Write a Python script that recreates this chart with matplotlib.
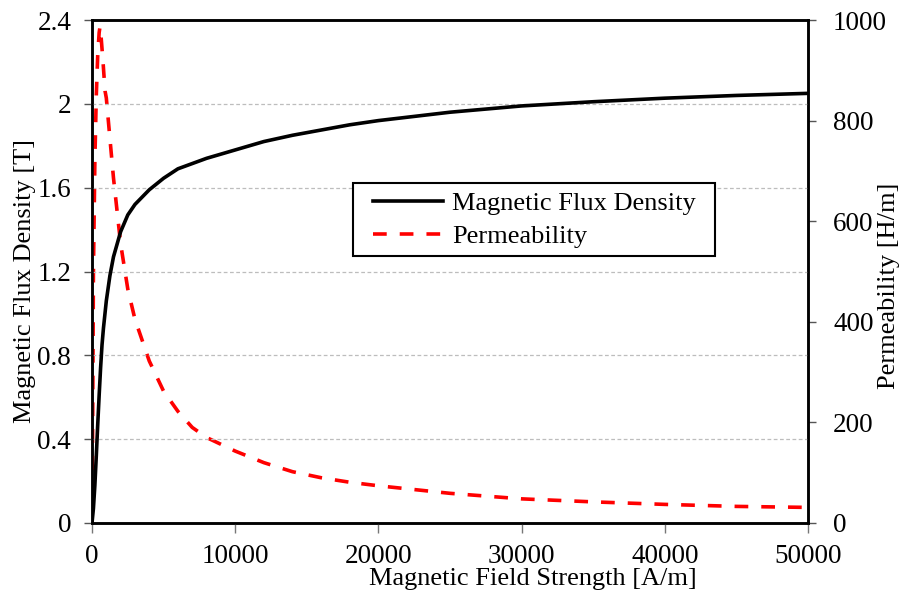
import matplotlib
matplotlib.use("Agg")
import matplotlib.pyplot as plt
from matplotlib.lines import Line2D
from matplotlib.patches import Rectangle

plt.rcParams['font.family'] = ['Liberation Serif', 'DejaVu Serif']

# Magnetic flux density (B-H curve)
h_b = [0, 100, 200, 300, 400, 500, 600, 700, 800, 1000, 1250, 1500, 2000, 2500,
       3000, 4000, 5000, 6000, 7000, 8000, 10000, 12000, 14000, 16000, 18000,
       20000, 25000, 30000, 35000, 40000, 45000, 50000]
flux_density = [0, 0.07, 0.18, 0.32, 0.47, 0.61, 0.74, 0.85, 0.93, 1.06, 1.18, 1.27,
                1.39, 1.47, 1.52, 1.59, 1.645, 1.69, 1.715, 1.74, 1.78, 1.82, 1.85,
                1.875, 1.90, 1.92, 1.96, 1.99, 2.01, 2.027, 2.04, 2.05]

# Relative permeability
h_mu = [0, 50, 100, 200, 300, 400, 500, 560, 620, 770, 910, 1000, 1250, 1500, 2000,
        2500, 3000, 4000, 5000, 6000, 7000, 8000, 10000, 12000, 14000, 16000,
        18000, 20000, 25000, 30000, 35000, 40000, 45000, 50000]
permeability = [0, 225, 500, 720, 850, 930, 975, 987, 972, 917, 859, 845, 765, 686,
                555, 465, 405, 322, 262, 222, 190, 170, 143, 120, 102, 90, 81, 74,
                59, 48, 42, 37, 33, 31]

x_ticks = [0, 10000, 20000, 30000, 40000, 50000]
b_ticks = [0, 0.4, 0.8, 1.2, 1.6, 2.0, 2.4]
b_tick_labels = ['0', '0.4', '0.8', '1.2', '1.6', '2', '2.4']
mu_ticks = [0, 200, 400, 600, 800, 1000]
legend_labels = ['Magnetic Flux Density', 'Permeability']

FS_TICK = 19.5
FS = 19

W, H = 904, 596
L, R, T, B = 92, 808, 20, 523

fig = plt.figure(figsize=(W/100, H/100), dpi=100)
ax = fig.add_axes([L/W, 1-B/H, (R-L)/W, (B-T)/H])
ax2 = ax.twinx()

ax.set_zorder(2)
ax.patch.set_visible(False)
ax2.set_zorder(1)

def axx(px):
    return (px - L) / (R - L)

def axy(py):
    return (B - py) / (B - T)

ax.plot(h_b, flux_density, color='black', lw=2.6, solid_joinstyle='round',
        solid_capstyle='butt', zorder=3)
ax2.plot(h_mu, permeability, color='#ff0000', lw=2.6, dashes=(3.8, 3.6),
         dash_capstyle='butt', zorder=3)

ax.set_xlim(0, 50000)
ax.set_ylim(0, 2.4)
ax2.set_ylim(0, 1000)

ax.set_xticks(x_ticks)
ax.set_xticklabels([str(v) for v in x_ticks])
ax.set_yticks(b_ticks)
ax.set_yticklabels(b_tick_labels)
ax2.set_yticks(mu_ticks)
ax2.set_yticklabels([str(v) for v in mu_ticks])

for yv in b_ticks[1:-1]:
    ax.axhline(yv, color='#bdbdbd', lw=0.9, ls=(0, (3, 2)), zorder=0)

ax.tick_params(axis='x', direction='out', length=7, width=1, color='#777777',
               labelsize=FS_TICK, pad=8)
ax.tick_params(axis='y', direction='out', length=6, width=1, color='#555555',
               labelsize=FS_TICK, pad=9)
ax2.tick_params(axis='y', direction='out', length=6, width=1, color='#555555',
                labelsize=FS_TICK, pad=12)

for a in (ax, ax2):
    for s in a.spines.values():
        s.set_linewidth(1.8)
        s.set_color('black')

ax.set_xlabel('Magnetic Field Strength [A/m]', fontsize=FS)
ax.xaxis.set_label_coords(axx(533), axy(568))
ax.set_ylabel('Magnetic Flux Density [T]', fontsize=FS)
ax.yaxis.set_label_coords(axx(36), axy(281))
ax2.set_ylabel('Permeability [H/m]', fontsize=FS, rotation=90)
ax2.yaxis.set_label_coords(axx(878), axy(286))

# legend frame
ax.add_patch(Rectangle((axx(353), axy(256)), axx(715) - axx(353), axy(183) - axy(256),
                       transform=ax.transAxes, facecolor='white', edgecolor='black',
                       lw=1.5, zorder=5))

handles = [Line2D([0], [0], color='black', lw=2.6),
           Line2D([0], [0], color='#ff0000', lw=2.6, dashes=(3.8, 3.6))]
leg = ax.legend(handles, legend_labels,
                loc='center left', bbox_to_anchor=(axx(373), axy(220)),
                fontsize=FS, frameon=False, handlelength=2.65, handletextpad=0.34,
                labelspacing=0.36, borderpad=0, borderaxespad=0)
leg.set_zorder(6)

fig.savefig('out.png', dpi=100)
